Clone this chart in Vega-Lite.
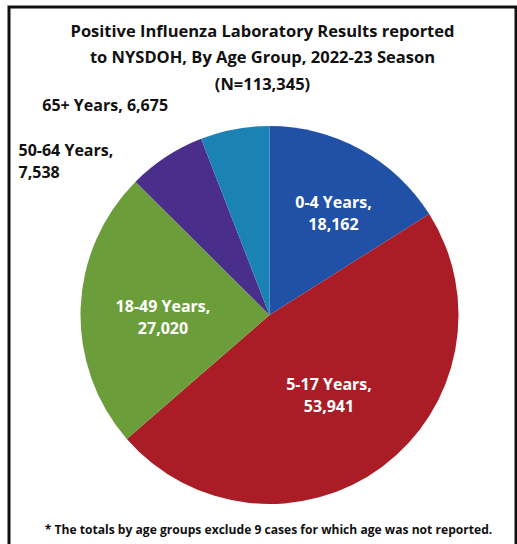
{
  "$schema": "https://vega.github.io/schema/vega-lite/v6.json",
  "padding": {"left": 7, "top": 5, "right": 0, "bottom": 0},
  "background": "white",
  "config": {"view": {"stroke": "#111111", "strokeWidth": 3}, "font": "Open Sans"},
  "title": {
    "text": "* The totals by age groups exclude 9 cases for which age was not reported.",
    "orient": "bottom", "offset": -101, "fontSize": 12.1, "font": "Open Sans", "fontWeight": "bold",
    "color": "#111111", "anchor": "middle", "dx": 6
  },
  "vconcat": [
    {
      "width": 507,
      "height": 616,
      "view": {"stroke": "#111111", "strokeWidth": 3},
      "title": {
        "text": ["Positive Influenza Laboratory Results reported", "to NYSDOH, By Age Group, 2022-23 Season", "(N=113,345)"],
        "offset": -86, "fontSize": 16.5, "lineHeight": 26.5, "font": "Open Sans", "fontWeight": "bold",
        "color": "#111111", "anchor": "middle"
      },
      "data": {
        "values": [
          {"seq": 1, "group": "0-4 Years", "count": 18162, "label": "0-4 Years,\n18,162"},
          {"seq": 2, "group": "5-17 Years", "count": 53941, "label": "5-17 Years,\n53,941"},
          {"seq": 3, "group": "18-49 Years", "count": 27020, "label": "18-49 Years,\n27,020"},
          {"seq": 4, "group": "50-64 Years", "count": 7538, "label": "50-64 Years,\n7,538"},
          {"seq": 5, "group": "65+ Years", "count": 6675, "label": "65+ Years, 6,675"}
        ]
      },
      "transform": [
        {"stack": "count", "groupby": [], "sort": [{"field": "seq", "order": "ascending"}], "as": ["a0", "a1"]}
      ],
      "encoding": {
        "theta": {"field": "a0", "type": "quantitative", "scale": {"domain": [0, 113336]}},
        "theta2": {"field": "a1"}
      },
      "layer": [
        {
          "mark": {"type": "arc", "outerRadius": 189, "xOffset": 7},
          "encoding": {
            "color": {
              "field": "group", "type": "nominal", "legend": null,
              "scale": {
                "domain": ["0-4 Years", "5-17 Years", "18-49 Years", "50-64 Years", "65+ Years"],
                "range": ["#2151a6", "#aa1d26", "#6b9e3b", "#4a2e8b", "#1b82b5"]
              }
            }
          }
        },
        {
          "transform": [{"filter": "datum.group === '0-4 Years'"}],
          "mark": {"type": "text", "radius": 112, "dx": 64, "dy": 0, "xOffset": 7, "lineBreak": "\n", "lineHeight": 22, "fontSize": 16, "fontWeight": "bold", "fill": "white", "font": "Open Sans"},
          "encoding": {"text": {"field": "label"}}
        },
        {
          "transform": [{"filter": "datum.group === '5-17 Years'"}],
          "mark": {"type": "text", "radius": 100, "dx": -25, "dy": 123, "xOffset": 7, "lineBreak": "\n", "lineHeight": 22, "fontSize": 16, "fontWeight": "bold", "fill": "white", "font": "Open Sans"},
          "encoding": {"text": {"field": "label"}}
        },
        {
          "transform": [{"filter": "datum.group === '18-49 Years'"}],
          "mark": {"type": "text", "radius": 100, "dx": -31, "dy": -74, "xOffset": 7, "lineBreak": "\n", "lineHeight": 22, "fontSize": 16, "fontWeight": "bold", "fill": "white", "font": "Open Sans"},
          "encoding": {"text": {"field": "label"}}
        },
        {
          "transform": [{"filter": "datum.group === '50-64 Years'"}],
          "mark": {"type": "text", "radius": 189, "dx": -117, "dy": -31, "xOffset": 7, "align": "left", "lineBreak": "\n", "lineHeight": 22, "fontSize": 16, "fontWeight": "bold", "fill": "#111111", "font": "Open Sans"},
          "encoding": {"text": {"field": "label"}}
        },
        {
          "transform": [{"filter": "datum.group === '65+ Years'"}],
          "mark": {"type": "text", "radius": 189, "dx": -96, "dy": -33, "xOffset": 7, "lineBreak": "\n", "lineHeight": 22, "fontSize": 16, "fontWeight": "bold", "fill": "#111111", "font": "Open Sans"},
          "encoding": {"text": {"field": "label"}}
        }
      ]
    }
  ]
}
